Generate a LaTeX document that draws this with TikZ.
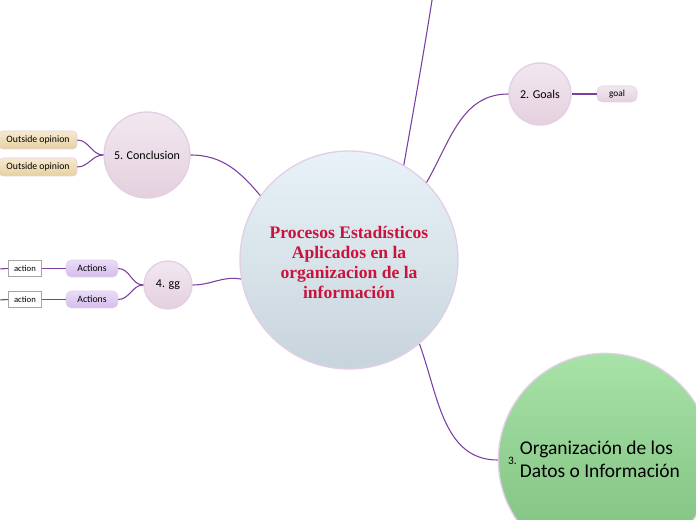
\documentclass[tikz,border=0pt]{standalone}
\usepackage{fontspec}
\setmainfont{Carlito}
\newfontfamily\titlefont{Liberation Serif}
\usepackage{xcolor}
\definecolor{linkpurple}{HTML}{7a3fa0}
\definecolor{titlered}{HTML}{c8143c}
\definecolor{rimlilac}{HTML}{e2cfe6}
\definecolor{topicpink}{HTML}{f2e8f0}
\definecolor{topicrose}{HTML}{e4d0de}
\definecolor{mainsky}{HTML}{e8f2f8}
\definecolor{mainslate}{HTML}{c8d4dc}
\definecolor{leafgreen}{HTML}{a8e2a8}
\definecolor{deepgreen}{HTML}{7cbe7c}
\definecolor{sandtop}{HTML}{f6ead0}
\definecolor{sandbot}{HTML}{e6d0a0}
\definecolor{violettop}{HTML}{eadcf8}
\definecolor{violetbot}{HTML}{d4bcec}
\usepackage{tikz}
\usetikzlibrary{positioning}

\begin{document}
\begin{tikzpicture}[
  x=0.75pt, y=-0.75pt,
  topic/.style={circle, draw=rimlilac, line width=1pt, top color=topicpink,
                bottom color=topicrose, inner sep=0pt, font=\fontsize{9}{11}\selectfont},
  central/.style={circle, draw=rimlilac, line width=1pt, top color=mainsky,
                  bottom color=mainslate, minimum size=163.5pt, inner sep=0pt},
  bigtopic/.style={circle, draw=rimlilac, line width=1pt, top color=leafgreen,
                   bottom color=deepgreen, minimum size=160pt, inner sep=0pt},
  opinion/.style={rectangle, rounded corners=3pt, draw=rimlilac, top color=sandtop,
                  bottom color=sandbot, minimum width=58.5pt, minimum height=13.5pt,
                  inner sep=0pt, font=\fontsize{7.3}{8}\selectfont},
  actbox/.style={rectangle, rounded corners=4pt, draw=rimlilac, top color=violettop,
                 bottom color=violetbot, minimum width=39pt, minimum height=12.75pt,
                 inner sep=0pt, font=\fontsize{7.3}{8}\selectfont},
  leafbox/.style={rectangle, draw=black!35, fill=white, minimum width=24.75pt,
                  minimum height=12pt, inner sep=0pt, font=\fontsize{6.5}{8}\selectfont},
  goalbox/.style={rectangle, rounded corners=4pt, draw=rimlilac, top color=topicpink,
                  bottom color=topicrose, minimum width=30pt, minimum height=12pt,
                  inner sep=0pt, font=\fontsize{7}{8}\selectfont},
  link/.style={draw=linkpurple, line width=0.8pt},
]
\useasboundingbox (0,0) rectangle (696,520);
\clip (0,0) rectangle (696,520);

% main topic
\node[central] (main) at (349,260) {};
\node[align=center, text=titlered, font=\titlefont\bfseries\fontsize{13.2}{15}\selectfont]
  (maintext) at (349,262) {Procesos Estadísticos\\Aplicados en la\\organizacion de la\\información};

% topics
\node[topic, minimum size=64.5pt] (conc) at (147,155) {5. Conclusion};
\node[topic, minimum size=46.5pt] (goals) at (540,94) {2. Goals};
\node[topic, minimum size=36pt] (gg) at (168,285) {4. gg};
\node[bigtopic] (datos) at (605,460) {};
\node[anchor=center, font=\fontsize{14.6}{17.5}\selectfont] (datostext) at (594,461)
  {\raisebox{0.1ex}{\fontsize{8.5}{9}\selectfont 3.}\,%
   \begin{tabular}{@{}l@{}}Organización de los\\Datos o Información\end{tabular}};
\coordinate (hidden) at (433,-6);

% subtopics
\node[opinion] (op1) at (38,140) {Outside opinion};
\node[opinion] (op2) at (38,167) {Outside opinion};
\node[actbox] (act1) at (92,268.5) {Actions};
\node[actbox] (act2) at (92,299.5) {Actions};
\node[leafbox, left=18pt of act1] (leaf1) {action};
\node[leafbox, left=18pt of act2] (leaf2) {action};
\node[goalbox] (goal) at (617,94) {goal};
\coordinate (edge1) at (-2,269);
\coordinate (edge2) at (-2,300);

% links
\draw[link] (main.60) to[out=80, in=-99] (hidden);
\draw[link] (main.45) to[out=60, in=180] (goals.west);
\draw[link] (main.144) to[out=130, in=0] (conc.east);
\draw[link] (main.190) to[out=170, in=0] (gg.east);
\draw[link] (main.-50) to[out=-70, in=180] (datos.west);
\draw[link] (goals.east) -- (goal.west);
\draw[link] (conc.west) to[out=180, in=0] (op1.east);
\draw[link] (conc.west) to[out=180, in=0] (op2.east);
\draw[link] (gg.west) to[out=180, in=0] (act1.east);
\draw[link] (gg.west) to[out=180, in=0] (act2.east);
\draw[link] (act1.west) -- (leaf1.east);
\draw[link] (act2.west) -- (leaf2.east);
\draw[link] (leaf1.west) -- (edge1);
\draw[link] (leaf2.west) -- (edge2);

\end{tikzpicture}
\end{document}
